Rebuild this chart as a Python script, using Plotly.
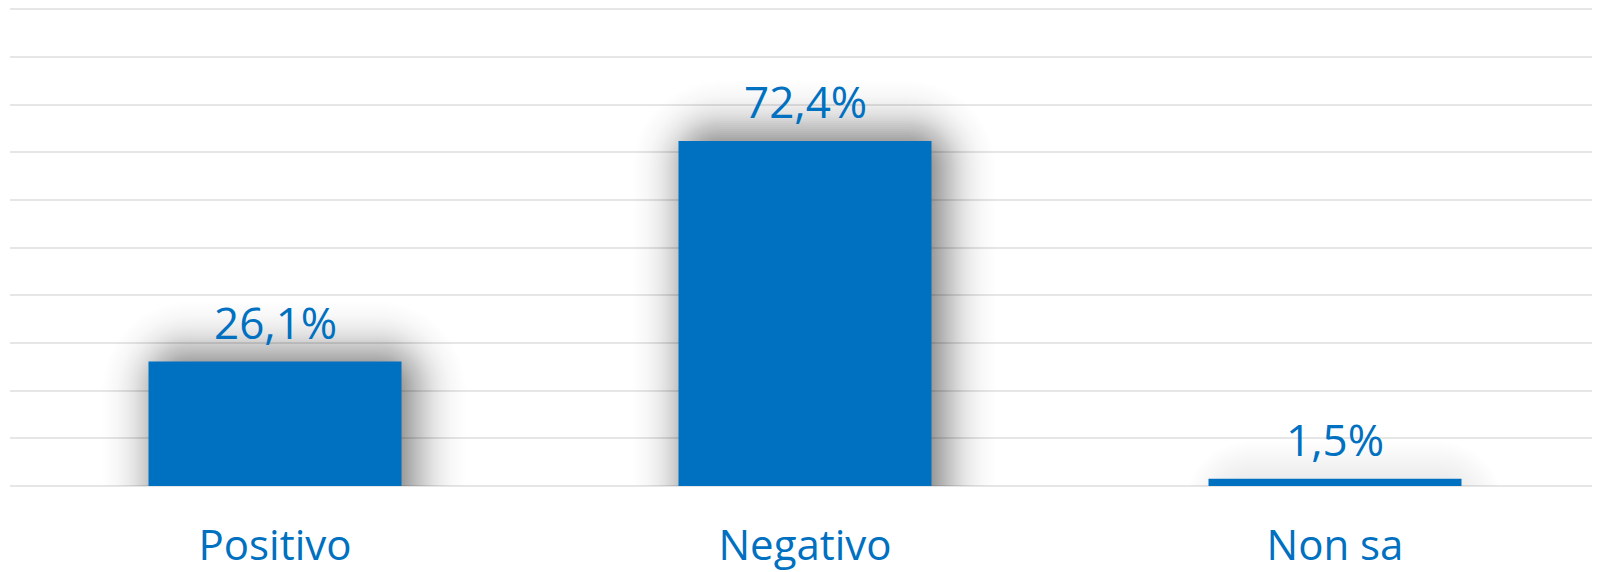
import math
import plotly.graph_objects as go

categories = ["Positivo", "Negativo", "Non sa"]
values = [26.1, 72.4, 1.5]
value_labels = ["26,1%", "72,4%", "1,5%"]

BLUE = "#0070C0"
FONT = "Century Gothic, Open Sans, Lato, sans-serif"

# the page body has an 8px default margin, so the figure is sized to fit
W, H = 1592, 564
ML, MR, MT, MB = 2, 0, 0, 86
YTOP = 100.3
plot_h = H - MT - MB
px_per_unit = plot_h / YTOP
bar_px = 253

# shadow style (pixels)
SIGMA = 27.0
PEAK = 0.6
OFF_X = 9.0
OFF_Y = 5.0  # upward
STEP = 2.0
KAPPA = 0.5523


def phi_c(z):
    return 0.5 * math.erfc(z / math.sqrt(2))


def rounded_top_path(left, right, top, r):
    r = max(0.5, min(r, (right - left) / 2, top + 60))
    k = KAPPA * r
    return (
        f"M{left:.2f},-60 L{left:.2f},{top - r:.2f} "
        f"C{left:.2f},{top - r + k:.2f} {left + r - k:.2f},{top:.2f} {left + r:.2f},{top:.2f} "
        f"L{right - r:.2f},{top:.2f} "
        f"C{right - r + k:.2f},{top:.2f} {right:.2f},{top - r + k:.2f} {right:.2f},{top - r:.2f} "
        f"L{right:.2f},-60 Z"
    )


fig = go.Figure()
fig.add_trace(go.Bar(
    x=categories, y=values,
    marker=dict(color=BLUE, line=dict(width=0)),
    hoverinfo="skip",
))

shapes = []
for i, v in enumerate(values):
    h_px = v * px_per_unit
    peak = PEAK * math.erf((h_px + 10) / (2 * math.sqrt(2) * SIGMA))
    ds = []
    d = 3 * SIGMA
    while d >= -min(3 * SIGMA, bar_px / 2):
        ds.append(d)
        d -= STEP
    prev_c = 0.0
    for d in ds:
        c = peak * phi_c(d / SIGMA)
        a = 1 - (1 - c) / (1 - prev_c) if prev_c < 1 else 0
        prev_c = c
        if a < 0.001:
            continue
        top = h_px + d + OFF_Y
        if top <= 0:
            continue
        left = -bar_px / 2 - d + OFF_X
        right = bar_px / 2 + d + OFF_X
        shapes.append(dict(
            type="path", layer="between",
            xref="x", yref="y",
            xsizemode="pixel", xanchor=i,
            ysizemode="pixel", yanchor=0,
            path=rounded_top_path(left, right, top, d + 1.2 * SIGMA),
            fillcolor=f"rgba(0,0,0,{a:.4f})", line=dict(width=0),
        ))

annotations = []
for c, v, t in zip(categories, values, value_labels):
    annotations.append(dict(
        x=c, y=v, xref="x", yref="y", text=t, showarrow=False,
        yanchor="bottom", yshift=8,
        font=dict(family=FONT, size=44, color=BLUE),
    ))

fig.update_layout(
    width=W, height=H,
    margin=dict(l=ML, r=MR, t=MT, b=MB, pad=0),
    paper_bgcolor="white", plot_bgcolor="white",
    bargap=1 - bar_px / ((W - ML - MR) / 3),
    showlegend=False,
    shapes=shapes, annotations=annotations,
    xaxis=dict(
        showgrid=False, showline=False, ticks="", zeroline=False,
        tickfont=dict(family=FONT, size=42, color=BLUE),
        ticklabelstandoff=31, automargin=False,
    ),
    yaxis=dict(
        range=[0, YTOP], tick0=0, dtick=10, showticklabels=False,
        showgrid=True, gridcolor="#e6e6e6", gridwidth=2,
        zeroline=True, zerolinecolor="#e6e6e6", zerolinewidth=2,
        showline=False, ticks="", fixedrange=True, automargin=False,
    ),
)

fig.write_html("out.html")
